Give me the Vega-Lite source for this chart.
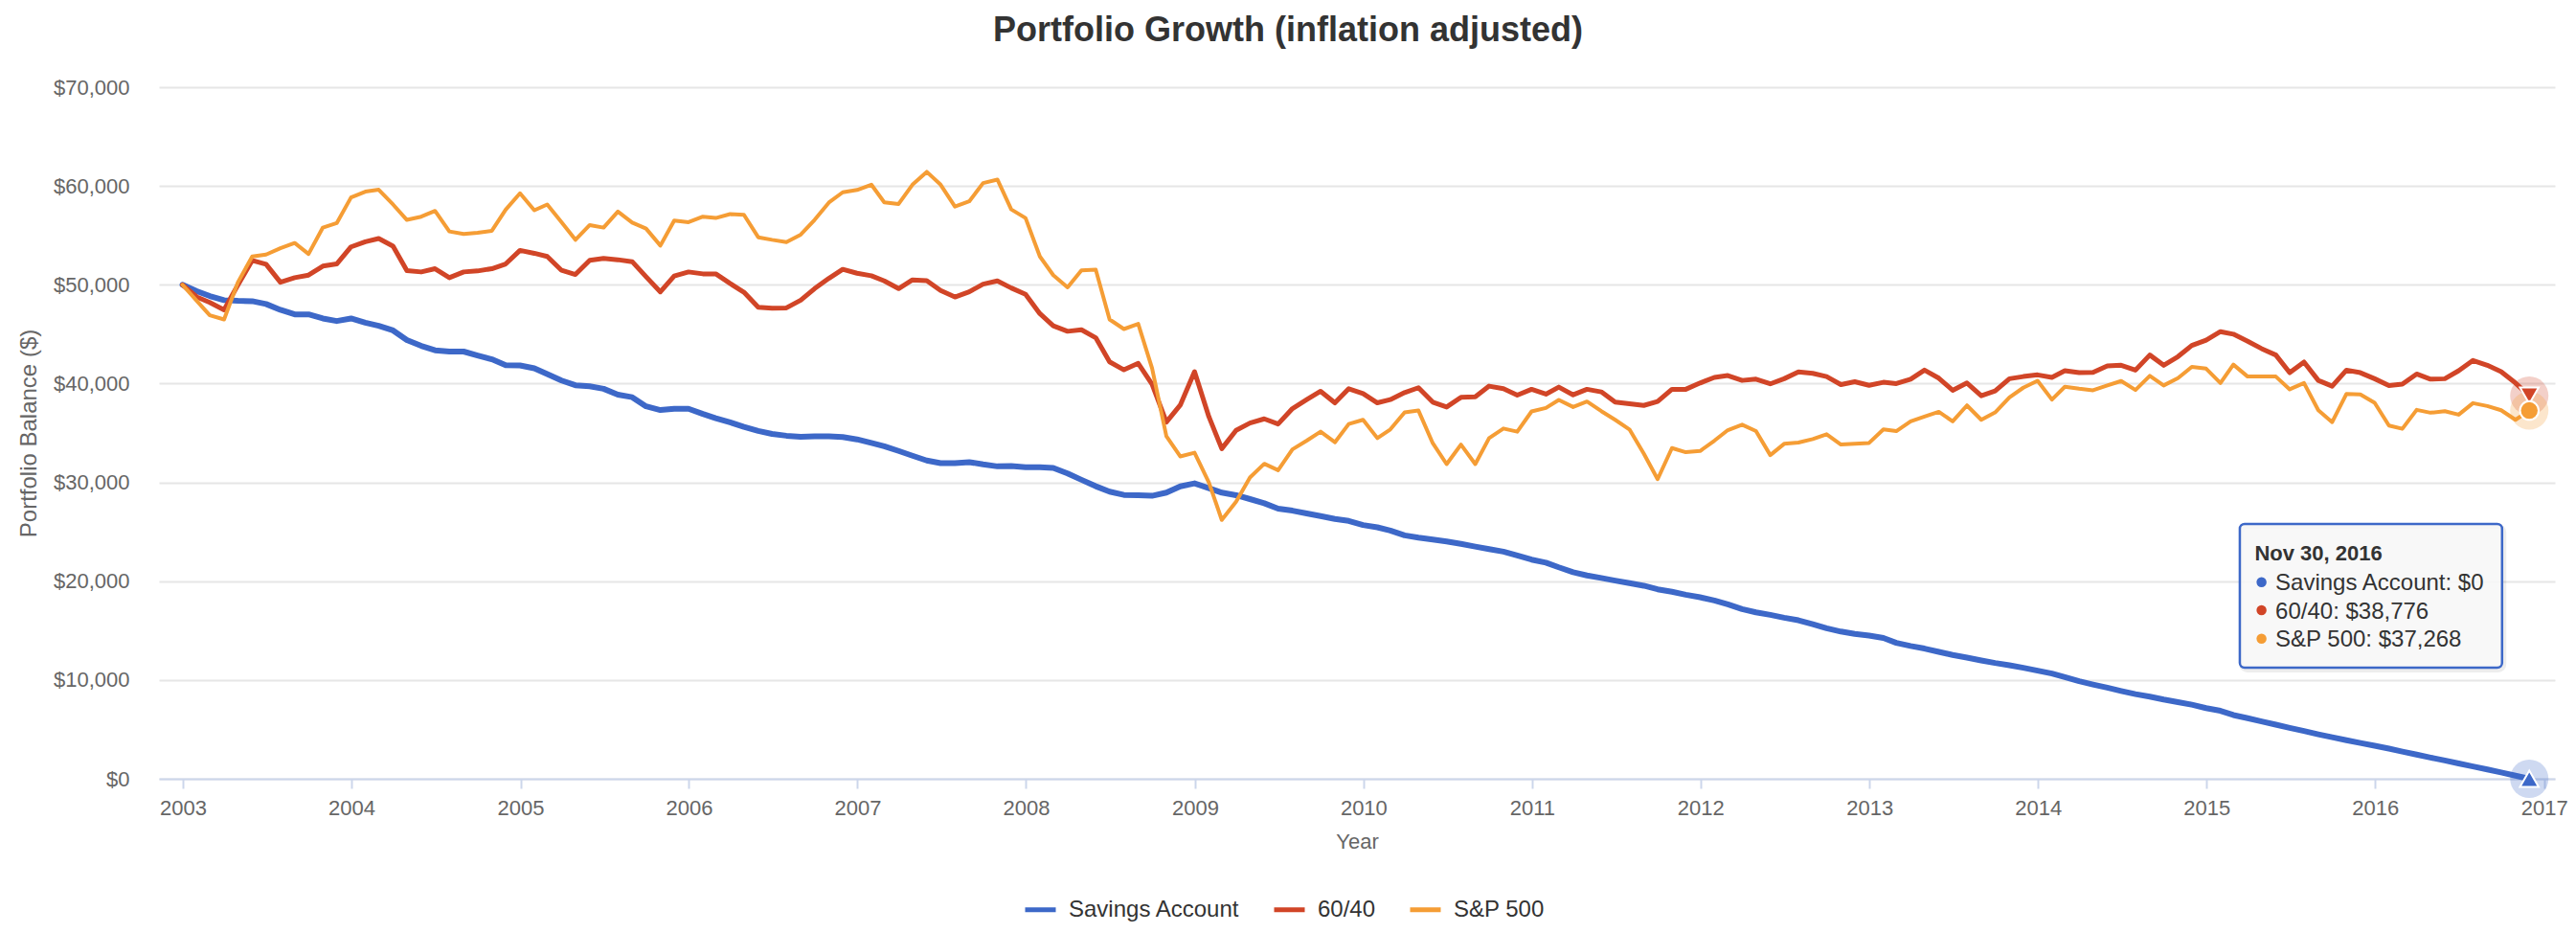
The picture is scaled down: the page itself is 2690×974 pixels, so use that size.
{
  "$schema": "https://vega.github.io/schema/vega-lite/v6.json",
  "autosize": {"type": "none"},
  "padding": {"left": 166, "top": 91, "right": 22, "bottom": 161},
  "width": 2502,
  "height": 722,
  "background": "#ffffff",
  "title": {
    "text": "Portfolio Growth (inflation adjusted)",
    "fontSize": 36,
    "fontWeight": "bold",
    "color": "#333333",
    "anchor": "middle",
    "dx": -72,
    "offset": 29
  },
  "config": {
    "font": "Liberation Sans",
    "view": {"stroke": null},
    "legend": {
      "orient": "none",
      "legendX": 902,
      "legendY": 840,
      "direction": "horizontal",
      "symbolType": "stroke",
      "symbolStrokeWidth": 5,
      "symbolSize": 1024,
      "symbolOpacity": 1,
      "labelFontSize": 24,
      "labelColor": "#333333",
      "labelOffset": 11,
      "labelLimit": 0,
      "columnPadding": 25,
      "padding": 0,
      "title": null
    }
  },
  "data": {
    "values": [
      {"date":"2002-12-31","Savings Account":50000,"60/40":50000,"S&P 500":50000},
      {"date":"2003-01-31","Savings Account":49350,"60/40":48765,"S&P 500":48375},
      {"date":"2003-02-28","Savings Account":48860,"60/40":48210,"S&P 500":46910},
      {"date":"2003-03-31","Savings Account":48440,"60/40":47465,"S&P 500":46490},
      {"date":"2003-04-30","Savings Account":48375,"60/40":49970,"S&P 500":50260},
      {"date":"2003-05-31","Savings Account":48340,"60/40":52470,"S&P 500":52860},
      {"date":"2003-06-30","Savings Account":48050,"60/40":52080,"S&P 500":53055},
      {"date":"2003-07-31","Savings Account":47460,"60/40":50260,"S&P 500":53700},
      {"date":"2003-08-31","Savings Account":47000,"60/40":50715,"S&P 500":54230},
      {"date":"2003-09-30","Savings Account":47000,"60/40":50975,"S&P 500":53120},
      {"date":"2003-10-31","Savings Account":46590,"60/40":51885,"S&P 500":55790},
      {"date":"2003-11-30","Savings Account":46330,"60/40":52110,"S&P 500":56240},
      {"date":"2003-12-31","Savings Account":46590,"60/40":53835,"S&P 500":58840},
      {"date":"2004-01-31","Savings Account":46160,"60/40":54355,"S&P 500":59425},
      {"date":"2004-02-29","Savings Account":45840,"60/40":54680,"S&P 500":59620},
      {"date":"2004-03-31","Savings Account":45380,"60/40":53900,"S&P 500":58125},
      {"date":"2004-04-30","Savings Account":44400,"60/40":51430,"S&P 500":56565},
      {"date":"2004-05-31","Savings Account":43820,"60/40":51300,"S&P 500":56890},
      {"date":"2004-06-30","Savings Account":43370,"60/40":51625,"S&P 500":57475},
      {"date":"2004-07-31","Savings Account":43240,"60/40":50715,"S&P 500":55395},
      {"date":"2004-08-31","Savings Account":43240,"60/40":51300,"S&P 500":55135},
      {"date":"2004-09-30","Savings Account":42850,"60/40":51400,"S&P 500":55265},
      {"date":"2004-10-31","Savings Account":42460,"60/40":51625,"S&P 500":55460},
      {"date":"2004-11-30","Savings Account":41870,"60/40":52110,"S&P 500":57600},
      {"date":"2004-12-31","Savings Account":41840,"60/40":53480,"S&P 500":59260},
      {"date":"2005-01-31","Savings Account":41550,"60/40":53185,"S&P 500":57540},
      {"date":"2005-02-28","Savings Account":40960,"60/40":52860,"S&P 500":58125},
      {"date":"2005-03-31","Savings Account":40310,"60/40":51460,"S&P 500":56340},
      {"date":"2005-04-30","Savings Account":39830,"60/40":51040,"S&P 500":54550},
      {"date":"2005-05-31","Savings Account":39730,"60/40":52470,"S&P 500":56045},
      {"date":"2005-06-30","Savings Account":39470,"60/40":52665,"S&P 500":55785},
      {"date":"2005-07-31","Savings Account":38880,"60/40":52535,"S&P 500":57410},
      {"date":"2005-08-31","Savings Account":38620,"60/40":52340,"S&P 500":56300},
      {"date":"2005-09-30","Savings Account":37700,"60/40":50810,"S&P 500":55690},
      {"date":"2005-10-31","Savings Account":37320,"60/40":49285,"S&P 500":53965},
      {"date":"2005-11-30","Savings Account":37450,"60/40":50880,"S&P 500":56500},
      {"date":"2005-12-31","Savings Account":37450,"60/40":51300,"S&P 500":56340},
      {"date":"2006-01-31","Savings Account":36930,"60/40":51105,"S&P 500":56890},
      {"date":"2006-02-28","Savings Account":36500,"60/40":51105,"S&P 500":56760},
      {"date":"2006-03-31","Savings Account":36080,"60/40":50130,"S&P 500":57150},
      {"date":"2006-04-30","Savings Account":35620,"60/40":49250,"S&P 500":57085},
      {"date":"2006-05-31","Savings Account":35200,"60/40":47725,"S&P 500":54810},
      {"date":"2006-06-30","Savings Account":34900,"60/40":47630,"S&P 500":54550},
      {"date":"2006-07-31","Savings Account":34720,"60/40":47660,"S&P 500":54320},
      {"date":"2006-08-31","Savings Account":34620,"60/40":48440,"S&P 500":55070},
      {"date":"2006-09-30","Savings Account":34650,"60/40":49610,"S&P 500":56565},
      {"date":"2006-10-31","Savings Account":34650,"60/40":50650,"S&P 500":58320},
      {"date":"2006-11-30","Savings Account":34590,"60/40":51560,"S&P 500":59360},
      {"date":"2006-12-31","Savings Account":34350,"60/40":51170,"S&P 500":59600},
      {"date":"2007-01-31","Savings Account":34000,"60/40":50910,"S&P 500":60130},
      {"date":"2007-02-28","Savings Account":33660,"60/40":50390,"S&P 500":58345},
      {"date":"2007-03-31","Savings Account":33180,"60/40":49610,"S&P 500":58180},
      {"date":"2007-04-30","Savings Account":32700,"60/40":50490,"S&P 500":60130},
      {"date":"2007-05-31","Savings Account":32210,"60/40":50420,"S&P 500":61430},
      {"date":"2007-06-30","Savings Account":31950,"60/40":49415,"S&P 500":60130},
      {"date":"2007-07-31","Savings Account":31950,"60/40":48765,"S&P 500":57920},
      {"date":"2007-08-31","Savings Account":32050,"60/40":49285,"S&P 500":58440},
      {"date":"2007-09-30","Savings Account":31820,"60/40":50065,"S&P 500":60290},
      {"date":"2007-10-31","Savings Account":31620,"60/40":50390,"S&P 500":60650},
      {"date":"2007-11-30","Savings Account":31650,"60/40":49675,"S&P 500":57630},
      {"date":"2007-12-31","Savings Account":31530,"60/40":49025,"S&P 500":56750},
      {"date":"2008-01-31","Savings Account":31530,"60/40":47075,"S&P 500":52860},
      {"date":"2008-02-29","Savings Account":31460,"60/40":45840,"S&P 500":50975},
      {"date":"2008-03-31","Savings Account":30910,"60/40":45290,"S&P 500":49740},
      {"date":"2008-04-30","Savings Account":30260,"60/40":45450,"S&P 500":51460},
      {"date":"2008-05-31","Savings Account":29610,"60/40":44640,"S&P 500":51525},
      {"date":"2008-06-30","Savings Account":29060,"60/40":42200,"S&P 500":46490},
      {"date":"2008-07-31","Savings Account":28730,"60/40":41390,"S&P 500":45520},
      {"date":"2008-08-31","Savings Account":28700,"60/40":42045,"S&P 500":46040},
      {"date":"2008-09-30","Savings Account":28640,"60/40":39935,"S&P 500":41560},
      {"date":"2008-10-31","Savings Account":28960,"60/40":36100,"S&P 500":34670},
      {"date":"2008-11-30","Savings Account":29600,"60/40":37820,"S&P 500":32630},
      {"date":"2008-12-31","Savings Account":29900,"60/40":41200,"S&P 500":33000},
      {"date":"2009-01-31","Savings Account":29415,"60/40":36655,"S&P 500":30000},
      {"date":"2009-02-28","Savings Account":28960,"60/40":33410,"S&P 500":26200},
      {"date":"2009-03-31","Savings Account":28700,"60/40":35260,"S&P 500":28050},
      {"date":"2009-04-30","Savings Account":28310,"60/40":36005,"S&P 500":30490},
      {"date":"2009-05-31","Savings Account":27890,"60/40":36430,"S&P 500":31880},
      {"date":"2009-06-30","Savings Account":27340,"60/40":35910,"S&P 500":31230},
      {"date":"2009-07-31","Savings Account":27140,"60/40":37470,"S&P 500":33340},
      {"date":"2009-08-31","Savings Account":26850,"60/40":38380,"S&P 500":34220},
      {"date":"2009-09-30","Savings Account":26590,"60/40":39220,"S&P 500":35130},
      {"date":"2009-10-31","Savings Account":26300,"60/40":38050,"S&P 500":34060},
      {"date":"2009-11-30","Savings Account":26100,"60/40":39480,"S&P 500":35910},
      {"date":"2009-12-31","Savings Account":25680,"60/40":38990,"S&P 500":36330},
      {"date":"2010-01-31","Savings Account":25450,"60/40":38050,"S&P 500":34480},
      {"date":"2010-02-28","Savings Account":25130,"60/40":38380,"S&P 500":35360},
      {"date":"2010-03-31","Savings Account":24640,"60/40":39090,"S&P 500":37080},
      {"date":"2010-04-30","Savings Account":24410,"60/40":39580,"S&P 500":37270},
      {"date":"2010-05-31","Savings Account":24220,"60/40":38120,"S&P 500":33960},
      {"date":"2010-06-30","Savings Account":24020,"60/40":37630,"S&P 500":31850},
      {"date":"2010-07-31","Savings Account":23770,"60/40":38600,"S&P 500":33830},
      {"date":"2010-08-31","Savings Account":23500,"60/40":38670,"S&P 500":31850},
      {"date":"2010-09-30","Savings Account":23250,"60/40":39740,"S&P 500":34480},
      {"date":"2010-10-31","Savings Account":22990,"60/40":39480,"S&P 500":35450},
      {"date":"2010-11-30","Savings Account":22600,"60/40":38830,"S&P 500":35130},
      {"date":"2010-12-31","Savings Account":22180,"60/40":39420,"S&P 500":37180},
      {"date":"2011-01-31","Savings Account":21880,"60/40":38930,"S&P 500":37530},
      {"date":"2011-02-28","Savings Account":21400,"60/40":39640,"S&P 500":38340},
      {"date":"2011-03-31","Savings Account":20910,"60/40":38860,"S&P 500":37630},
      {"date":"2011-04-30","Savings Account":20580,"60/40":39420,"S&P 500":38180},
      {"date":"2011-05-31","Savings Account":20320,"60/40":39160,"S&P 500":37210},
      {"date":"2011-06-30","Savings Account":20060,"60/40":38120,"S&P 500":36330},
      {"date":"2011-07-31","Savings Account":19800,"60/40":37950,"S&P 500":35360},
      {"date":"2011-08-31","Savings Account":19540,"60/40":37790,"S&P 500":32920},
      {"date":"2011-09-30","Savings Account":19180,"60/40":38180,"S&P 500":30320},
      {"date":"2011-10-31","Savings Account":18930,"60/40":39420,"S&P 500":33470},
      {"date":"2011-11-30","Savings Account":18630,"60/40":39420,"S&P 500":33050},
      {"date":"2011-12-31","Savings Account":18370,"60/40":40060,"S&P 500":33180},
      {"date":"2012-01-31","Savings Account":18050,"60/40":40620,"S&P 500":34220},
      {"date":"2012-02-29","Savings Account":17660,"60/40":40810,"S&P 500":35290},
      {"date":"2012-03-31","Savings Account":17170,"60/40":40320,"S&P 500":35840},
      {"date":"2012-04-30","Savings Account":16850,"60/40":40450,"S&P 500":35190},
      {"date":"2012-05-31","Savings Account":16590,"60/40":39970,"S&P 500":32760},
      {"date":"2012-06-30","Savings Account":16300,"60/40":40490,"S&P 500":33900},
      {"date":"2012-07-31","Savings Account":16040,"60/40":41170,"S&P 500":34030},
      {"date":"2012-08-31","Savings Account":15650,"60/40":41040,"S&P 500":34380},
      {"date":"2012-09-30","Savings Account":15230,"60/40":40710,"S&P 500":34870},
      {"date":"2012-10-31","Savings Account":14900,"60/40":39900,"S&P 500":33830},
      {"date":"2012-11-30","Savings Account":14670,"60/40":40190,"S&P 500":33900},
      {"date":"2012-12-31","Savings Account":14500,"60/40":39820,"S&P 500":33990},
      {"date":"2013-01-31","Savings Account":14250,"60/40":40130,"S&P 500":35360},
      {"date":"2013-02-28","Savings Account":13760,"60/40":40000,"S&P 500":35190},
      {"date":"2013-03-31","Savings Account":13440,"60/40":40450,"S&P 500":36170},
      {"date":"2013-04-30","Savings Account":13180,"60/40":41360,"S&P 500":36660},
      {"date":"2013-05-31","Savings Account":12850,"60/40":40550,"S&P 500":37140},
      {"date":"2013-06-30","Savings Account":12530,"60/40":39320,"S&P 500":36170},
      {"date":"2013-07-31","Savings Account":12270,"60/40":40060,"S&P 500":37790},
      {"date":"2013-08-31","Savings Account":11980,"60/40":38770,"S&P 500":36330},
      {"date":"2013-09-30","Savings Account":11720,"60/40":39250,"S&P 500":37080},
      {"date":"2013-10-31","Savings Account":11490,"60/40":40490,"S&P 500":38600},
      {"date":"2013-11-30","Savings Account":11230,"60/40":40710,"S&P 500":39580},
      {"date":"2013-12-31","Savings Account":10940,"60/40":40880,"S&P 500":40290},
      {"date":"2014-01-31","Savings Account":10650,"60/40":40620,"S&P 500":38380},
      {"date":"2014-02-28","Savings Account":10290,"60/40":41300,"S&P 500":39680},
      {"date":"2014-03-31","Savings Account":9870,"60/40":41100,"S&P 500":39480},
      {"date":"2014-04-30","Savings Account":9540,"60/40":41140,"S&P 500":39320},
      {"date":"2014-05-31","Savings Account":9220,"60/40":41790,"S&P 500":39810},
      {"date":"2014-06-30","Savings Account":8890,"60/40":41850,"S&P 500":40260},
      {"date":"2014-07-31","Savings Account":8570,"60/40":41360,"S&P 500":39350},
      {"date":"2014-08-31","Savings Account":8310,"60/40":42890,"S&P 500":40780},
      {"date":"2014-09-30","Savings Account":8020,"60/40":41850,"S&P 500":39810},
      {"date":"2014-10-31","Savings Account":7760,"60/40":42730,"S&P 500":40550},
      {"date":"2014-11-30","Savings Account":7500,"60/40":43860,"S&P 500":41690},
      {"date":"2014-12-31","Savings Account":7150,"60/40":44400,"S&P 500":41510},
      {"date":"2015-01-31","Savings Account":6880,"60/40":45260,"S&P 500":40060},
      {"date":"2015-02-28","Savings Account":6450,"60/40":45000,"S&P 500":41920},
      {"date":"2015-03-31","Savings Account":6130,"60/40":44290,"S&P 500":40710},
      {"date":"2015-04-30","Savings Account":5800,"60/40":43540,"S&P 500":40710},
      {"date":"2015-05-31","Savings Account":5480,"60/40":42890,"S&P 500":40710},
      {"date":"2015-06-30","Savings Account":5150,"60/40":41100,"S&P 500":39420},
      {"date":"2015-07-31","Savings Account":4830,"60/40":42180,"S&P 500":40060},
      {"date":"2015-08-31","Savings Account":4500,"60/40":40320,"S&P 500":37300},
      {"date":"2015-09-30","Savings Account":4200,"60/40":39740,"S&P 500":36100},
      {"date":"2015-10-31","Savings Account":3900,"60/40":41360,"S&P 500":38960},
      {"date":"2015-11-30","Savings Account":3620,"60/40":41100,"S&P 500":38900},
      {"date":"2015-12-31","Savings Account":3350,"60/40":40490,"S&P 500":38050},
      {"date":"2016-01-31","Savings Account":3050,"60/40":39800,"S&P 500":35750},
      {"date":"2016-02-29","Savings Account":2750,"60/40":39940,"S&P 500":35420},
      {"date":"2016-03-31","Savings Account":2450,"60/40":40970,"S&P 500":37340},
      {"date":"2016-04-30","Savings Account":2150,"60/40":40450,"S&P 500":37050},
      {"date":"2016-05-31","Savings Account":1850,"60/40":40490,"S&P 500":37210},
      {"date":"2016-06-30","Savings Account":1550,"60/40":41300,"S&P 500":36850},
      {"date":"2016-07-31","Savings Account":1250,"60/40":42340,"S&P 500":38020},
      {"date":"2016-08-31","Savings Account":950,"60/40":41850,"S&P 500":37730},
      {"date":"2016-09-30","Savings Account":640,"60/40":41200,"S&P 500":37300},
      {"date":"2016-10-31","Savings Account":320,"60/40":40060,"S&P 500":36330},
      {"date":"2016-11-30","Savings Account":0,"60/40":38776,"S&P 500":37268}
    ]
  },
  "transform": [
    {"fold": ["Savings Account", "60/40", "S&P 500"], "as": ["series", "value"]}
  ],
  "resolve": {"legend": {"color": "independent"}},
  "layer": [
    {
      "mark": {"type": "line", "strokeJoin": "round", "strokeCap": "round"},
      "encoding": {
        "x": {
          "field": "date",
          "type": "temporal",
          "scale": {"domain": [{"year": 2002, "month": 11, "date": 10}, {"year": 2017, "month": 1, "date": 24, "hours": 12}]},
          "axis": {
            "title": "Year",
            "format": "%Y",
            "tickCount": {"interval": "year", "step": 1},
            "grid": false,
            "domainColor": "#ccd6eb",
            "domainWidth": 2,
            "tickColor": "#ccd6eb",
            "tickWidth": 2,
            "tickSize": 10,
            "labelFontSize": 22,
            "labelColor": "#666666",
            "labelPadding": 10,
            "labelFlush": false,
            "titleFontSize": 22,
            "titleColor": "#666666",
            "titleFontWeight": "normal",
            "titlePadding": 14
          }
        },
        "y": {
          "field": "value",
          "type": "quantitative",
          "scale": {"domain": [0, 70000], "nice": false},
          "axis": {
            "title": "Portfolio Balance ($)",
            "values": [0, 10000, 20000, 30000, 40000, 50000, 60000, 70000],
            "format": "$,.0f",
            "grid": true,
            "gridColor": "#e6e6e6",
            "gridWidth": 2,
            "domain": false,
            "ticks": false,
            "labelFontSize": 22,
            "labelColor": "#666666",
            "labelPadding": 31,
            "titleFontSize": 24,
            "titleColor": "#666666",
            "titleFontWeight": "normal",
            "titlePadding": 13
          }
        },
        "color": {
          "field": "series",
          "type": "nominal",
          "scale": {
            "domain": ["Savings Account", "60/40", "S&P 500"],
            "range": ["#3d68c8", "#d14527", "#f59d35"]
          },
          "sort": ["Savings Account", "60/40", "S&P 500"]
        },
        "strokeWidth": {
          "field": "series",
          "type": "nominal",
          "scale": {"domain": ["Savings Account", "60/40", "S&P 500"], "range": [6, 4, 4]},
          "legend": null
        }
      }
    },
    {
      "transform": [{"filter": "year(datum.date) == 2016 && month(datum.date) == 10"}],
      "mark": {"type": "point", "filled": true, "shape": "circle", "size": 1600, "opacity": 0.25},
      "encoding": {
        "x": {"field": "date", "type": "temporal"},
        "y": {"field": "value", "type": "quantitative"},
        "color": {"field": "series", "type": "nominal", "legend": null}
      }
    },
    {
      "transform": [{"filter": "year(datum.date) == 2016 && month(datum.date) == 10"}],
      "mark": {"type": "point", "filled": true, "size": 380, "opacity": 1, "stroke": "#ffffff", "strokeWidth": 2},
      "encoding": {
        "x": {"field": "date", "type": "temporal"},
        "y": {"field": "value", "type": "quantitative"},
        "color": {"field": "series", "type": "nominal", "legend": null},
        "shape": {
          "field": "series",
          "type": "nominal",
          "scale": {"domain": ["Savings Account", "60/40", "S&P 500"], "range": ["triangle-up", "triangle-down", "circle"]},
          "legend": null
        }
      }
    },
    {
      "data": {"values": [{}]},
      "mark": {"type": "rect", "fill": "none", "stroke": "#000000", "strokeOpacity": 0.07, "strokeWidth": 5, "cornerRadius": 6},
      "encoding": {
        "x": {"datum": {"year": 2015, "month": 3, "date": 18}, "type": "temporal"},
        "x2": {"datum": {"year": 2016, "month": 10, "date": 6}},
        "y": {"datum": 25550, "type": "quantitative"},
        "y2": {"datum": 11000}
      }
    },
    {
      "data": {"values": [{}]},
      "mark": {"type": "rect", "fill": "#f7f7f7", "fillOpacity": 0.88, "stroke": "#3d68c8", "strokeWidth": 2.5, "cornerRadius": 5},
      "encoding": {
        "x": {"datum": {"year": 2015, "month": 3, "date": 14}, "type": "temporal"},
        "x2": {"datum": {"year": 2016, "month": 10, "date": 2}},
        "y": {"datum": 25790, "type": "quantitative"},
        "y2": {"datum": 11250}
      }
    },
    {
      "data": {"values": [{}]},
      "mark": {"type": "text", "text": "Nov 30, 2016", "align": "left", "baseline": "middle", "fontSize": 22, "fontWeight": "bold", "color": "#333333"},
      "encoding": {
        "x": {"datum": {"year": 2015, "month": 4, "date": 15}, "type": "temporal"},
        "y": {"datum": 22755, "type": "quantitative"}
      }
    },
    {
      "data": {"values": [{}]},
      "mark": {"type": "text", "text": "Savings Account: $0", "align": "left", "baseline": "middle", "fontSize": 24, "color": "#333333"},
      "encoding": {
        "x": {"datum": {"year": 2015, "month": 5, "date": 30}, "type": "temporal"},
        "y": {"datum": 19810, "type": "quantitative"}
      }
    },
    {
      "data": {"values": [{}]},
      "mark": {"type": "text", "text": "60/40: $38,776", "align": "left", "baseline": "middle", "fontSize": 24, "color": "#333333"},
      "encoding": {
        "x": {"datum": {"year": 2015, "month": 5, "date": 30}, "type": "temporal"},
        "y": {"datum": 16910, "type": "quantitative"}
      }
    },
    {
      "data": {"values": [{}]},
      "mark": {"type": "text", "text": "S&P 500: $37,268", "align": "left", "baseline": "middle", "fontSize": 24, "color": "#333333"},
      "encoding": {
        "x": {"datum": {"year": 2015, "month": 5, "date": 30}, "type": "temporal"},
        "y": {"datum": 14020, "type": "quantitative"}
      }
    },
    {
      "data": {"values": [{}]},
      "mark": {"type": "point", "filled": true, "shape": "circle", "size": 110, "opacity": 1, "color": "#3d68c8"},
      "encoding": {
        "x": {"datum": {"year": 2015, "month": 4, "date": 30}, "type": "temporal"},
        "y": {"datum": 19905, "type": "quantitative"}
      }
    },
    {
      "data": {"values": [{}]},
      "mark": {"type": "point", "filled": true, "shape": "circle", "size": 110, "opacity": 1, "color": "#d14527"},
      "encoding": {
        "x": {"datum": {"year": 2015, "month": 4, "date": 30}, "type": "temporal"},
        "y": {"datum": 17064, "type": "quantitative"}
      }
    },
    {
      "data": {"values": [{}]},
      "mark": {"type": "point", "filled": true, "shape": "circle", "size": 110, "opacity": 1, "color": "#f59d35"},
      "encoding": {
        "x": {"datum": {"year": 2015, "month": 4, "date": 30}, "type": "temporal"},
        "y": {"datum": 14185, "type": "quantitative"}
      }
    }
  ]
}
